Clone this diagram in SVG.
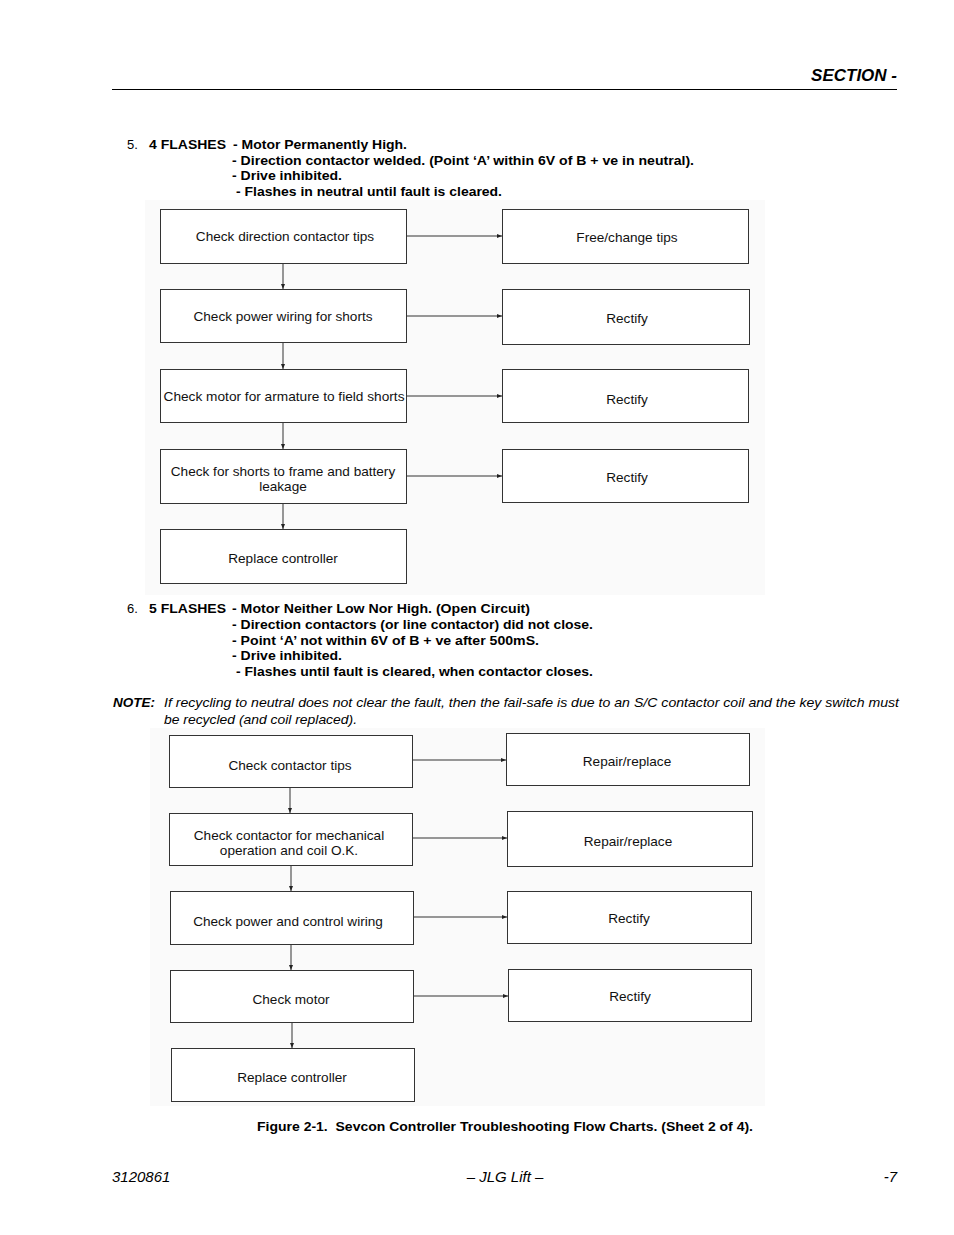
<svg xmlns="http://www.w3.org/2000/svg" width="954" height="1235" viewBox="0 0 954 1235">
<defs>
<marker id="ah" viewBox="0 0 10 10" refX="10" refY="5" markerWidth="5" markerHeight="5" orient="auto" markerUnits="userSpaceOnUse">
<path d="M0,1 L10,5 L0,9 z" fill="#222"/>
</marker>
</defs>
<style>
.bg{fill:#fafafa}
.box{fill:#fff;stroke:#333;stroke-width:1}
.bt{font-family:"Liberation Sans",Arial,sans-serif;font-size:13.6px;fill:#111;text-anchor:middle}
.con{stroke:#333;stroke-width:1;fill:none;marker-end:url(#ah)}
.b{font-family:"Liberation Sans",Arial,sans-serif;font-size:13.5px;font-weight:bold;fill:#000}
.n{font-family:"Liberation Sans",Arial,sans-serif;font-size:13px;fill:#000}
.i{font-family:"Liberation Sans",Arial,sans-serif;font-size:13.5px;font-style:italic;fill:#000}
.bi{font-family:"Liberation Sans",Arial,sans-serif;font-size:13.5px;font-style:italic;font-weight:bold;fill:#000}
</style>
<rect width="954" height="1235" fill="#fff"/>
<!-- header -->
<text class="bi" x="897" y="81" text-anchor="end" style="font-size:17px">SECTION -</text>
<line x1="112" y1="89.5" x2="897" y2="89.5" stroke="#000" stroke-width="1.2"/>

<!-- item 5 -->
<text class="n" x="127" y="149">5.</text>
<text class="b" x="149" y="149" textLength="77" lengthAdjust="spacingAndGlyphs">4 FLASHES</text>
<text class="b" x="233" y="149" textLength="174" lengthAdjust="spacingAndGlyphs">- Motor Permanently High.</text>
<text class="b" x="232" y="165" textLength="462" lengthAdjust="spacingAndGlyphs">- Direction contactor welded. (Point ‘A’ within 6V of B + ve in neutral).</text>
<text class="b" x="232" y="180" textLength="110" lengthAdjust="spacingAndGlyphs">- Drive inhibited.</text>
<text class="b" x="236" y="196" textLength="266" lengthAdjust="spacingAndGlyphs">- Flashes in neutral until fault is cleared.</text>

<rect class="bg" x="145" y="200" width="620" height="395"/>

<g id="connectors1">
<line class="con" x1="407" y1="236" x2="502" y2="236"/>
<line class="con" x1="407" y1="316" x2="502" y2="316"/>
<line class="con" x1="407" y1="396" x2="502" y2="396"/>
<line class="con" x1="407" y1="476" x2="502" y2="476"/>
<line class="con" x1="283" y1="263" x2="283" y2="289"/>
<line class="con" x1="283" y1="342" x2="283" y2="369"/>
<line class="con" x1="283" y1="422" x2="283" y2="449"/>
<line class="con" x1="283" y1="503" x2="283" y2="529"/>
</g>

<g id="a1"><rect class="box" x="160.5" y="209.5" width="246" height="54"/><text class="bt" x="285" y="241">Check direction contactor tips</text></g>
<g id="a2"><rect class="box" x="160.5" y="289.5" width="246" height="53"/><text class="bt" x="283" y="321">Check power wiring for shorts</text></g>
<g id="a3"><rect class="box" x="160.5" y="369.5" width="246" height="53"/><text class="bt" x="284" y="401" textLength="241" lengthAdjust="spacingAndGlyphs">Check motor for armature to field shorts</text></g>
<g id="a4"><rect class="box" x="160.5" y="449.5" width="246" height="54"/><text class="bt" x="283" y="476">Check for shorts to frame and battery</text><text class="bt" x="283" y="491">leakage</text></g>
<g id="a5"><rect class="box" x="160.5" y="529.5" width="246" height="54"/><text class="bt" x="283" y="563">Replace controller</text></g>
<g id="r1"><rect class="box" x="502.5" y="209.5" width="246" height="54"/><text class="bt" x="627" y="242">Free/change tips</text></g>
<g id="r2"><rect class="box" x="502.5" y="289.5" width="247" height="55"/><text class="bt" x="627" y="323">Rectify</text></g>
<g id="r3"><rect class="box" x="502.5" y="369.5" width="246" height="53"/><text class="bt" x="627" y="404">Rectify</text></g>
<g id="r4"><rect class="box" x="502.5" y="449.5" width="246" height="53"/><text class="bt" x="627" y="482">Rectify</text></g>

<!-- item 6 -->
<text class="n" x="127" y="613">6.</text>
<text class="b" x="149" y="613" textLength="77" lengthAdjust="spacingAndGlyphs">5 FLASHES</text>
<text class="b" x="232" y="613" textLength="298" lengthAdjust="spacingAndGlyphs">- Motor Neither Low Nor High. (Open Circuit)</text>
<text class="b" x="232" y="629" textLength="361" lengthAdjust="spacingAndGlyphs">- Direction contactors (or line contactor) did not close.</text>
<text class="b" x="232" y="645" textLength="307" lengthAdjust="spacingAndGlyphs">- Point ‘A’ not within 6V of B + ve after 500mS.</text>
<text class="b" x="232" y="660" textLength="110" lengthAdjust="spacingAndGlyphs">- Drive inhibited.</text>
<text class="b" x="236" y="676" textLength="357" lengthAdjust="spacingAndGlyphs">- Flashes until fault is cleared, when contactor closes.</text>

<text class="bi" x="113" y="707" textLength="42" lengthAdjust="spacingAndGlyphs">NOTE:</text>
<text class="i" x="164" y="707" textLength="735" lengthAdjust="spacingAndGlyphs">If recycling to neutral does not clear the fault, then the fail-safe is due to an S/C contactor coil and the key switch must</text>
<text class="i" x="164" y="724" textLength="193" lengthAdjust="spacingAndGlyphs">be recycled (and coil replaced).</text>

<rect class="bg" x="150" y="728" width="615" height="378"/>

<g id="connectors2">
<line class="con" x1="412" y1="760" x2="506" y2="760"/>
<line class="con" x1="412" y1="838" x2="507" y2="838"/>
<line class="con" x1="413" y1="917" x2="507" y2="917"/>
<line class="con" x1="413" y1="996" x2="508" y2="996"/>
<line class="con" x1="290" y1="787" x2="290" y2="813"/>
<line class="con" x1="291" y1="865" x2="291" y2="891"/>
<line class="con" x1="291" y1="944" x2="291" y2="970"/>
<line class="con" x1="292" y1="1022" x2="292" y2="1048"/>
</g>

<g id="b1"><rect class="box" x="169.5" y="735.5" width="243" height="52"/><text class="bt" x="290" y="770">Check contactor tips</text></g>
<g id="b2"><rect class="box" x="169.5" y="813.5" width="243" height="52"/><text class="bt" x="289" y="840">Check contactor for mechanical</text><text class="bt" x="289" y="855">operation and coil O.K.</text></g>
<g id="b3"><rect class="box" x="170.5" y="891.5" width="243" height="53"/><text class="bt" x="288" y="926">Check power and control wiring</text></g>
<g id="b4"><rect class="box" x="170.5" y="970.5" width="243" height="52"/><text class="bt" x="291" y="1004">Check motor</text></g>
<g id="b5"><rect class="box" x="171.5" y="1048.5" width="243" height="53"/><text class="bt" x="292" y="1082">Replace controller</text></g>
<g id="s1"><rect class="box" x="506.5" y="733.5" width="243" height="52"/><text class="bt" x="627" y="766">Repair/replace</text></g>
<g id="s2"><rect class="box" x="507.5" y="811.5" width="245" height="55"/><text class="bt" x="628" y="846">Repair/replace</text></g>
<g id="s3"><rect class="box" x="507.5" y="891.5" width="244" height="52"/><text class="bt" x="629" y="923">Rectify</text></g>
<g id="s4"><rect class="box" x="508.5" y="969.5" width="243" height="52"/><text class="bt" x="630" y="1001">Rectify</text></g>

<text class="b" x="257" y="1131" textLength="496" lengthAdjust="spacingAndGlyphs" xml:space="preserve">Figure 2-1.  Sevcon Controller Troubleshooting Flow Charts. (Sheet 2 of 4).</text>

<!-- footer -->
<text class="i" x="112" y="1182" style="font-size:15px">3120861</text>
<text class="i" x="505" y="1182" text-anchor="middle" style="font-size:15px">– JLG Lift –</text>
<text class="i" x="897" y="1182" text-anchor="end" style="font-size:15px">-7</text>
</svg>
